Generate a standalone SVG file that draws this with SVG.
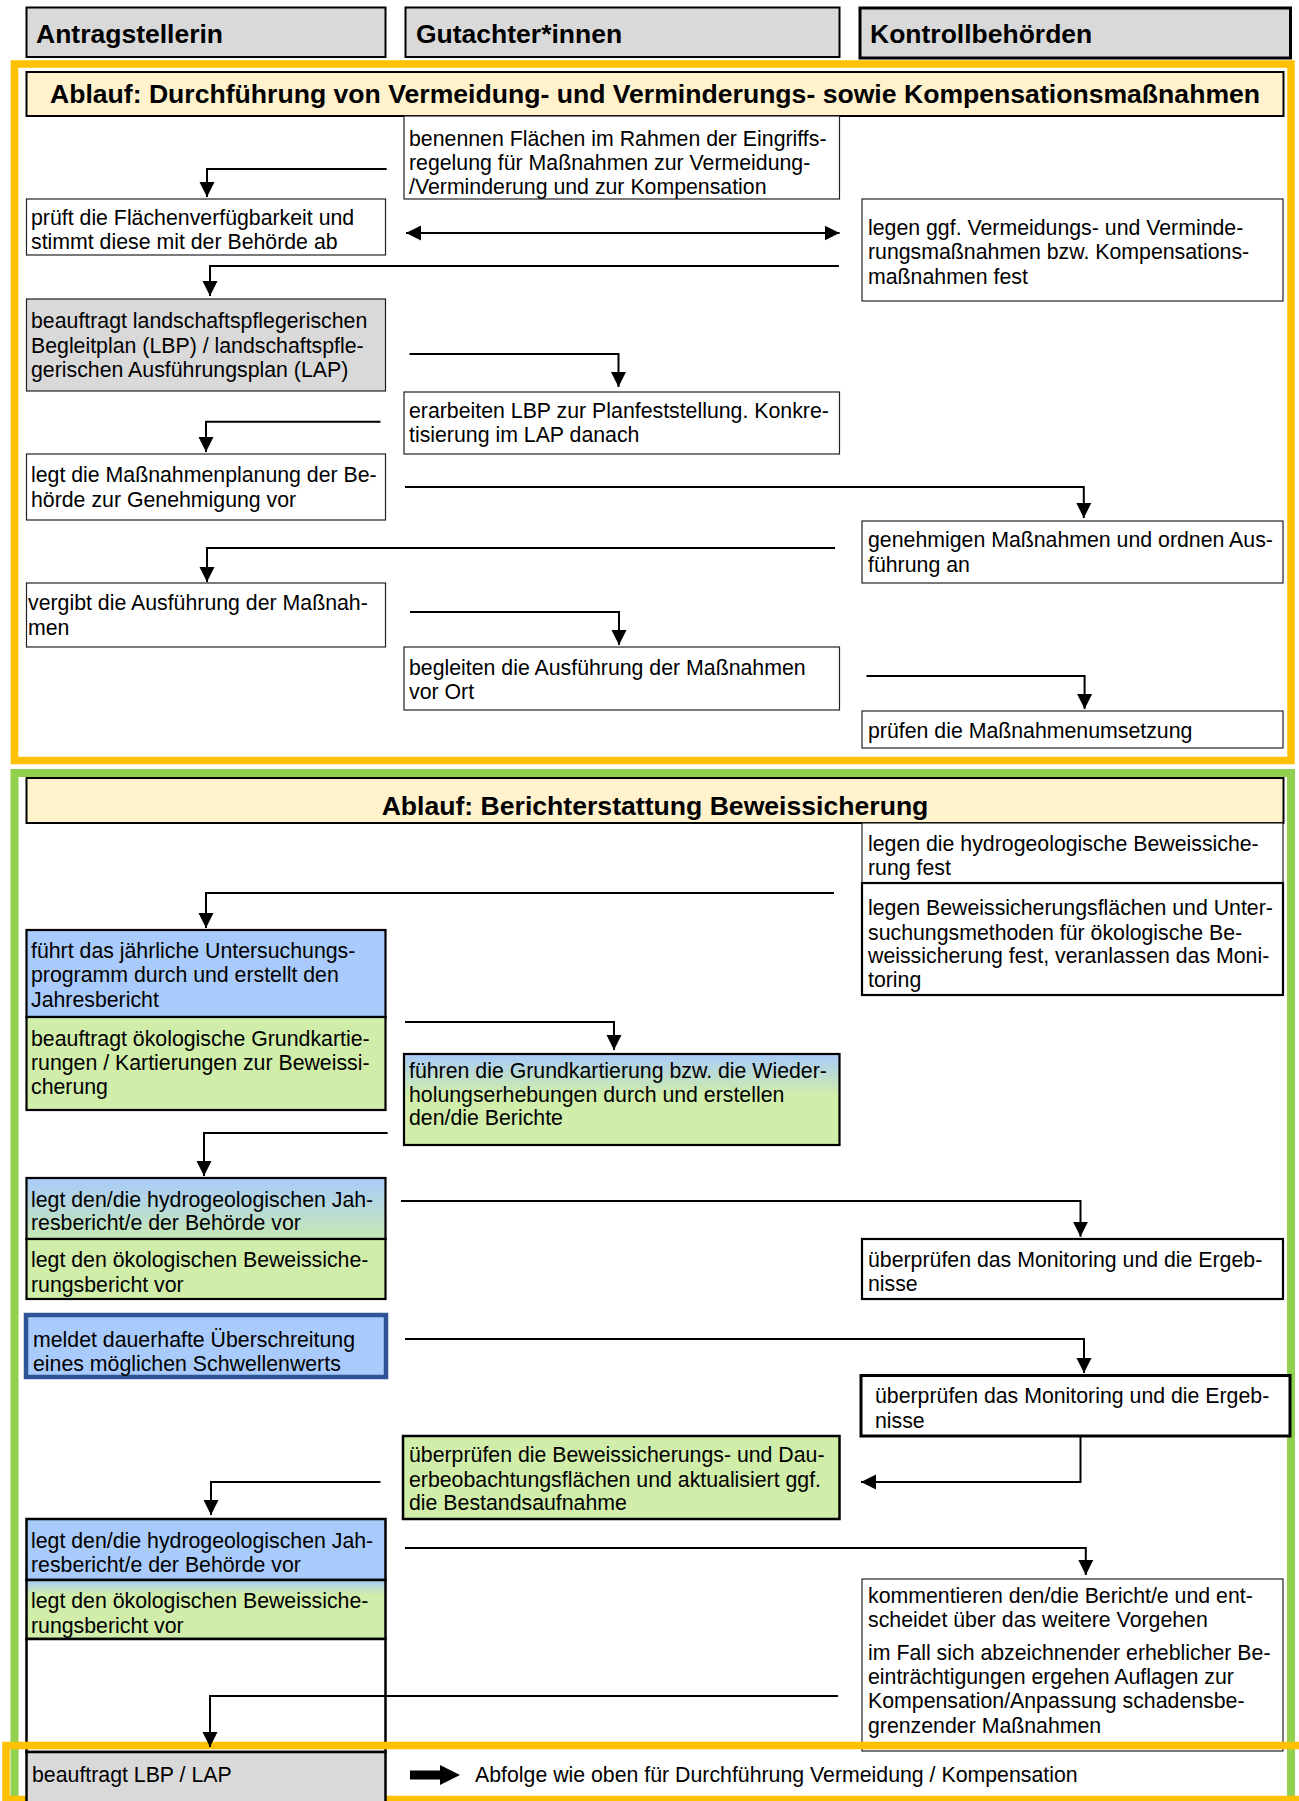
<svg xmlns="http://www.w3.org/2000/svg" width="1299" height="1801" viewBox="0 0 1299 1801">
<style>
text{font-family:"Liberation Sans",Arial,sans-serif;fill:#000}
.t{font-size:21.3px}
.h{font-size:26.5px;font-weight:bold}
.ti{font-size:26.6px;font-weight:bold}
.hb{fill:#D9D9D9;stroke:#000;stroke-width:2}
.b1{fill:#fff;stroke:#222;stroke-width:1.2}
.b2{fill:#fff;stroke:#000;stroke-width:2.2}
.gray{fill:#D9D9D9}
.blue{fill:#A9CBFB}
.green{fill:#D0EDA9}
.c{fill:none;stroke:#000;stroke-width:2}
</style>
<defs>
<marker id="ah" markerWidth="16" markerHeight="16" refX="15" refY="8" orient="auto-start-reverse" markerUnits="userSpaceOnUse"><path d="M0,0.5 L15,8 L0,15.5 Z" fill="#000"/></marker>
<linearGradient id="gA7" x1="0" y1="0" x2="0" y2="1"><stop offset="0" stop-color="#A9CBFB"/><stop offset="1" stop-color="#C6E8B4"/></linearGradient>
<linearGradient id="gG4" x1="0" y1="0" x2="0" y2="1"><stop offset="0" stop-color="#A9CBFB"/><stop offset="0.45" stop-color="#D0EDA9"/><stop offset="1" stop-color="#D0EDA9"/></linearGradient>
<linearGradient id="gA11" x1="0" y1="0" x2="0" y2="1"><stop offset="0" stop-color="#A9CBFB"/><stop offset="0.25" stop-color="#D0EDA9"/><stop offset="1" stop-color="#D0EDA9"/></linearGradient>
</defs>
<rect width="1299" height="1801" fill="#fff"/>

<!-- headers -->
<g id="hdr-antrag"><rect class="hb" x="26.5" y="7.5" width="359" height="49.5"/><text class="h" x="36" y="43">Antragstellerin</text></g>
<g id="hdr-gutachter"><rect class="hb" x="405.5" y="7.5" width="434" height="49.5"/><text class="h" x="416" y="43">Gutachter*innen</text></g>
<g id="hdr-kontroll"><rect class="hb" style="stroke-width:3" x="860" y="8" width="430.5" height="50"/><text class="h" x="870" y="43">Kontrollbehörden</text></g>

<!-- frames -->
<rect x="14.5" y="64" width="1276.5" height="696.5" fill="none" stroke="#FFC000" stroke-width="7.5"/>
<rect x="14.5" y="773" width="1276.5" height="1040" fill="none" stroke="#92D050" stroke-width="8"/>

<g id="title1"><rect x="26.5" y="72" width="1257" height="44" fill="#FFF2CC" stroke="#000" stroke-width="2"/><text class="ti" x="655" y="103" text-anchor="middle">Ablauf: Durchführung von Vermeidung- und Verminderungs- sowie Kompensationsmaßnahmen</text></g>

<g id="g1"><rect class="b1" x="404" y="116" width="435.5" height="83"/><text class="t"><tspan x="409" y="146">benennen Flächen im Rahmen der Eingriffs-</tspan><tspan x="409" y="170">regelung für Maßnahmen zur Vermeidung-</tspan><tspan x="409" y="194">/Verminderung und zur Kompensation</tspan></text></g>
<g id="a1"><rect class="b1" x="26.5" y="199" width="359" height="56"/><text class="t"><tspan x="31" y="225">prüft die Flächenverfügbarkeit und</tspan><tspan x="31" y="249">stimmt diese mit der Behörde ab</tspan></text></g>
<g id="k1"><rect class="b1" x="862" y="199" width="421" height="102"/><text class="t"><tspan x="868" y="235">legen ggf. Vermeidungs- und Verminde-</tspan><tspan x="868" y="259">rungsmaßnahmen bzw. Kompensations-</tspan><tspan x="868" y="284">maßnahmen fest</tspan></text></g>
<g id="a2"><rect class="b1 gray" x="26.5" y="299" width="359" height="92"/><text class="t"><tspan x="31" y="328">beauftragt landschaftspflegerischen</tspan><tspan x="31" y="353">Begleitplan (LBP) / landschaftspfle-</tspan><tspan x="31" y="377">gerischen Ausführungsplan (LAP)</tspan></text></g>
<g id="g2"><rect class="b1" x="404" y="392" width="435.5" height="62"/><text class="t"><tspan x="409" y="418">erarbeiten LBP zur Planfeststellung. Konkre-</tspan><tspan x="409" y="442">tisierung im LAP danach</tspan></text></g>
<g id="a3"><rect class="b1" x="26.5" y="454" width="359" height="66"/><text class="t"><tspan x="31" y="482">legt die Maßnahmenplanung der Be-</tspan><tspan x="31" y="507">hörde zur Genehmigung vor</tspan></text></g>
<g id="k2"><rect class="b1" x="862" y="521" width="421" height="62"/><text class="t"><tspan x="868" y="547">genehmigen Maßnahmen und ordnen Aus-</tspan><tspan x="868" y="572">führung an</tspan></text></g>
<g id="a4"><rect class="b1" x="26.5" y="583" width="359" height="64"/><text class="t"><tspan x="28" y="610">vergibt die Ausführung der Maßnah-</tspan><tspan x="28" y="635">men</tspan></text></g>
<g id="g3"><rect class="b1" x="404" y="647" width="435.5" height="63"/><text class="t"><tspan x="409" y="675">begleiten die Ausführung der Maßnahmen</tspan><tspan x="409" y="699">vor Ort</tspan></text></g>
<g id="k3"><rect class="b1" x="862" y="711" width="421" height="37"/><text class="t"><tspan x="868" y="738">prüfen die Maßnahmenumsetzung</tspan></text></g>

<g id="title2"><rect x="26.5" y="778" width="1257" height="45" fill="#FFF2CC" stroke="#000" stroke-width="2"/><text class="ti" x="655" y="815" text-anchor="middle">Ablauf: Berichterstattung Beweissicherung</text></g>

<g id="k4"><rect class="b1" x="862" y="823" width="421" height="60"/><text class="t"><tspan x="868" y="851">legen die hydrogeologische Beweissiche-</tspan><tspan x="868" y="875">rung fest</tspan></text></g>
<g id="k5"><rect class="b2" x="862" y="883" width="421" height="112"/><text class="t"><tspan x="868" y="915">legen Beweissicherungsflächen und Unter-</tspan><tspan x="868" y="940">suchungsmethoden für ökologische Be-</tspan><tspan x="868" y="963">weissicherung fest, veranlassen das Moni-</tspan><tspan x="868" y="987">toring</tspan></text></g>
<g id="a5"><rect class="b2 blue" x="26.5" y="930" width="359" height="87"/><text class="t"><tspan x="31" y="958">führt das jährliche Untersuchungs-</tspan><tspan x="31" y="982">programm durch und erstellt den</tspan><tspan x="31" y="1007">Jahresbericht</tspan></text></g>
<g id="a6"><rect class="b2 green" x="26.5" y="1017" width="359" height="93"/><text class="t"><tspan x="31" y="1046">beauftragt ökologische Grundkartie-</tspan><tspan x="31" y="1070">rungen / Kartierungen zur Beweissi-</tspan><tspan x="31" y="1094">cherung</tspan></text></g>
<g id="g4"><rect class="b2" style="fill:url(#gG4)" x="404" y="1054" width="435.5" height="91"/><text class="t"><tspan x="409" y="1078">führen die Grundkartierung bzw. die Wieder-</tspan><tspan x="409" y="1102">holungserhebungen durch und erstellen</tspan><tspan x="409" y="1125">den/die Berichte</tspan></text></g>
<g id="a7"><rect class="b2" style="fill:url(#gA7)" x="26.5" y="1178" width="359" height="61"/><text class="t"><tspan x="31" y="1207">legt den/die hydrogeologischen Jah-</tspan><tspan x="31" y="1230">resbericht/e der Behörde vor</tspan></text></g>
<g id="a8"><rect class="b2 green" x="26.5" y="1239" width="359" height="60"/><text class="t"><tspan x="31" y="1267">legt den ökologischen Beweissiche-</tspan><tspan x="31" y="1292">rungsbericht vor</tspan></text></g>
<g id="k6"><rect class="b2" x="862" y="1239" width="421" height="60"/><text class="t"><tspan x="868" y="1267">überprüfen das Monitoring und die Ergeb-</tspan><tspan x="868" y="1291">nisse</tspan></text></g>
<g id="a9"><rect class="blue" x="26" y="1315" width="360" height="62" stroke="#2F5597" stroke-width="4.5"/><text class="t"><tspan x="33" y="1347">meldet dauerhafte Überschreitung</tspan><tspan x="33" y="1371">eines möglichen Schwellenwerts</tspan></text></g>
<g id="k7"><rect class="b2" style="stroke-width:3" x="861" y="1375.5" width="429" height="60.5"/><text class="t"><tspan x="875" y="1403">überprüfen das Monitoring und die Ergeb-</tspan><tspan x="875" y="1428">nisse</tspan></text></g>
<g id="g5"><rect class="b2 green" style="stroke-width:2.5" x="403" y="1436" width="436.5" height="83"/><text class="t"><tspan x="409" y="1462">überprüfen die Beweissicherungs- und Dau-</tspan><tspan x="409" y="1487">erbeobachtungsflächen und aktualisiert ggf.</tspan><tspan x="409" y="1510">die Bestandsaufnahme</tspan></text></g>
<g id="a10"><rect class="b2 blue" style="stroke-width:2.5" x="26.5" y="1519" width="359" height="61"/><text class="t"><tspan x="31" y="1548">legt den/die hydrogeologischen Jah-</tspan><tspan x="31" y="1572">resbericht/e der Behörde vor</tspan></text></g>
<g id="a11"><rect class="b2" style="fill:url(#gA11);stroke-width:2.5" x="26.5" y="1580" width="359" height="59"/><text class="t"><tspan x="31" y="1608">legt den ökologischen Beweissiche-</tspan><tspan x="31" y="1633">rungsbericht vor</tspan></text></g>
<g id="a12"><rect class="b2" style="stroke-width:2.5" x="26.5" y="1639" width="359" height="113"/></g>
<g id="k8"><rect class="b1" x="862" y="1579" width="421" height="172"/><text class="t"><tspan x="868" y="1603">kommentieren den/die Bericht/e und ent-</tspan><tspan x="868" y="1627">scheidet über das weitere Vorgehen</tspan><tspan x="868" y="1660">im Fall sich abzeichnender erheblicher Be-</tspan><tspan x="868" y="1684">einträchtigungen ergehen Auflagen zur</tspan><tspan x="868" y="1708">Kompensation/Anpassung schadensbe-</tspan><tspan x="868" y="1733">grenzender Maßnahmen</tspan></text></g>

<rect x="6" y="1745.5" width="1300" height="54" fill="none" stroke="#FFC000" stroke-width="7.5"/>

<g id="a13"><rect class="b2 gray" style="stroke-width:2.5" x="26.5" y="1752" width="359" height="60"/><text class="t"><tspan x="32" y="1782">beauftragt LBP / LAP</tspan></text></g>
<g id="note"><path d="M410,1770.5 H440 V1765 L460,1775 L440,1785 V1779.5 H410 Z" fill="#000"/><text class="t" x="475" y="1782">Abfolge wie oben für Durchführung Vermeidung / Kompensation</text></g>

<g id="connectors">
<path class="c" d="M386.7,169 H207 V197" marker-end="url(#ah)"/>
<path class="c" d="M406,233 H839.6" marker-start="url(#ah)" marker-end="url(#ah)"/>
<path class="c" d="M839,266 H210 V296" marker-end="url(#ah)"/>
<path class="c" d="M409.5,354 H618.5 V387" marker-end="url(#ah)"/>
<path class="c" d="M380.5,421.7 H206 V452" marker-end="url(#ah)"/>
<path class="c" d="M405,487 H1083.8 V518" marker-end="url(#ah)"/>
<path class="c" d="M835,548 H207 V582" marker-end="url(#ah)"/>
<path class="c" d="M410,612 H619 V645" marker-end="url(#ah)"/>
<path class="c" d="M866.5,676 H1084.6 V709" marker-end="url(#ah)"/>
<path class="c" d="M834,893 H206 V928" marker-end="url(#ah)"/>
<path class="c" d="M405,1022 H614 V1050" marker-end="url(#ah)"/>
<path class="c" d="M387.6,1133 H204 V1176" marker-end="url(#ah)"/>
<path class="c" d="M401,1201 H1080.5 V1236.7" marker-end="url(#ah)"/>
<path class="c" d="M405,1339 H1084 V1373" marker-end="url(#ah)"/>
<path class="c" d="M1080.5,1437 V1482 H861" marker-end="url(#ah)"/>
<path class="c" d="M380.5,1482 H211 V1515" marker-end="url(#ah)"/>
<path class="c" d="M405,1548 H1085.8 V1575" marker-end="url(#ah)"/>
<path class="c" d="M838,1696 H210 V1747" marker-end="url(#ah)"/>
</g>
</svg>
